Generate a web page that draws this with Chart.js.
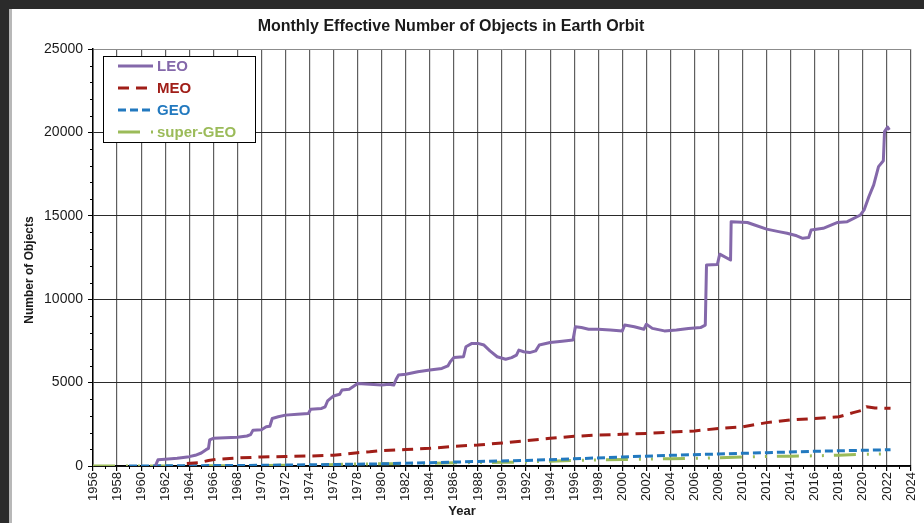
<!DOCTYPE html>
<html>
<head>
<meta charset="utf-8">
<script src="https://cdn.jsdelivr.net/npm/chart.js@4.4.1/dist/chart.umd.min.js"></script>
<style>
  html, body { margin: 0; padding: 0; }
  body { width: 924px; height: 523px; background: #2b2b2b; position: relative; overflow: hidden; }
  #sheet { position: absolute; left: 9px; top: 9px; right: 0; bottom: 0; background: #ffffff; border-left: 3px solid #b8b8b8; }
  #wrap { position: absolute; left: 0; top: 0; width: 924px; height: 523px; }
</style>
</head>
<body>
<div id="sheet"></div>
<div id="wrap"><canvas id="chart" width="924" height="523"></canvas></div>
<script>
// Monthly effective number of tracked objects, by orbital regime (year, count)
const leoYears = [1961.2, 1961.4, 1962.0, 1962.5, 1963.0, 1963.5, 1964.0, 1964.5, 1965.0, 1965.4, 1965.6, 1965.7, 1966.0, 1967.0, 1968.0, 1968.8, 1969.1, 1969.3, 1970.0, 1970.4, 1970.7, 1970.9, 1971.4, 1972.0, 1973.0, 1973.9, 1974.1, 1975.0, 1975.3, 1975.5, 1976.0, 1976.5, 1976.7, 1977.3, 1977.7, 1978.0, 1979.0, 1980.0, 1980.6, 1981.0, 1981.2, 1981.4, 1982.0, 1983.0, 1984.0, 1985.0, 1985.5, 1985.7, 1986.0, 1986.8, 1987.0, 1987.5, 1988.0, 1988.5, 1989.0, 1989.6, 1990.3, 1990.8, 1991.2, 1991.4, 1991.8, 1992.3, 1992.8, 1993.1, 1994.0, 1995.0, 1995.9, 1996.1, 1996.6, 1997.2, 1998.0, 1999.0, 2000.0, 2000.2, 2001.0, 2001.8, 2002.0, 2002.5, 2003.5, 2004.5, 2005.5, 2006.5, 2006.9, 2007.0, 2007.9, 2008.1, 2009.0, 2009.05, 2010.4, 2011.0, 2012.0, 2013.0, 2013.7, 2014.5, 2015.0, 2015.5, 2015.7, 2016.7, 2017.9, 2018.7, 2019.8, 2020.1, 2020.5, 2020.9, 2021.3, 2021.7, 2021.8, 2022.05, 2022.2];
const leoCounts = [30, 370, 400, 430, 460, 510, 560, 640, 780, 980, 1060, 1560, 1660, 1700, 1720, 1800, 1880, 2150, 2170, 2350, 2380, 2850, 2950, 3050, 3100, 3150, 3400, 3450, 3550, 3900, 4200, 4300, 4550, 4600, 4800, 4950, 4900, 4850, 4900, 4850, 5200, 5450, 5500, 5650, 5750, 5850, 6000, 6250, 6500, 6550, 7150, 7350, 7350, 7250, 6900, 6550, 6400, 6500, 6650, 6950, 6850, 6800, 6900, 7250, 7400, 7480, 7550, 8350, 8300, 8200, 8200, 8150, 8100, 8450, 8350, 8200, 8500, 8250, 8100, 8150, 8250, 8300, 8450, 12050, 12080, 12700, 12350, 14650, 14600, 14450, 14200, 14050, 13950, 13800, 13650, 13700, 14150, 14250, 14600, 14650, 15050, 15350, 16150, 16850, 17950, 18300, 20050, 20320, 20150];

const meoYears = [1963.8, 1964.8, 1965.6, 1966.2, 1968.0, 1970.0, 1972.0, 1974.0, 1976.0, 1977.0, 1978.0, 1979.0, 1980.0, 1982.0, 1984.0, 1986.0, 1988.0, 1990.0, 1992.0, 1994.0, 1996.0, 1998.0, 2000.0, 2002.0, 2004.0, 2006.0, 2008.0, 2010.0, 2012.0, 2014.0, 2016.0, 2018.0, 2018.5, 2019.2, 2020.0, 2020.3, 2021.0, 2022.3];
const meoCounts = [150, 200, 330, 400, 480, 540, 570, 600, 650, 720, 800, 850, 920, 990, 1060, 1180, 1260, 1380, 1520, 1660, 1780, 1860, 1900, 1950, 2030, 2100, 2250, 2350, 2600, 2760, 2850, 2950, 3050, 3200, 3350, 3550, 3480, 3460];

const geoYears = [1959.0, 1965.0, 1970.0, 1975.0, 1980.0, 1984.0, 1988.0, 1992.0, 1996.0, 2000.0, 2004.0, 2008.0, 2012.0, 2016.0, 2020.0, 2022.3];
const geoCounts = [0, 20, 40, 80, 130, 200, 270, 330, 430, 540, 640, 720, 800, 880, 940, 980];

const superGeoYears = [1956.0, 1960.0, 1965.0, 1970.0, 1975.0, 1977.0, 1980.0, 1983.0, 1986.0, 1988.0, 1990.0, 1992.0, 1994.0, 1996.0, 1998.0, 2000.0, 2002.0, 2004.0, 2006.0, 2008.0, 2010.0, 2012.0, 2014.0, 2016.0, 2018.0, 2020.0, 2022.3];
const superGeoCounts = [0, 0, 10, 30, 60, 110, 130, 150, 190, 210, 220, 240, 290, 340, 370, 390, 410, 440, 460, 490, 540, 570, 590, 610, 650, 700, 730];

const seriesNames = ['LEO', 'MEO', 'GEO', 'super-GEO'];
const seriesColors = ['#8468aa', '#a01e18', '#2279bf', '#9bbb59'];
const seriesDashes = [[], [11, 7], [8, 4], [22, 11, 2, 10, 2, 10]];

const yTickValues = [0, 5000, 10000, 15000, 20000, 25000];

const chartTitle = 'Monthly Effective Number of Objects in Earth Orbit';
const yAxisTitle = 'Number of Objects';
const xAxisTitle = 'Year';

const FONT = "'Liberation Sans', Arial, sans-serif";
const INK = '#1a1a1a';

function toPoints(xs, ys) {
  return xs.map((x, i) => ({ x: x, y: ys[i] }));
}

const seriesData = [
  toPoints(leoYears, leoCounts),
  toPoints(meoYears, meoCounts),
  toPoints(geoYears, geoCounts),
  toPoints(superGeoYears, superGeoCounts)
];

const datasets = seriesNames.map((name, i) => ({
  label: name,
  data: seriesData[i],
  borderColor: seriesColors[i],
  backgroundColor: seriesColors[i],
  borderDash: seriesDashes[i],
  borderWidth: 3,
  borderCapStyle: 'butt',
  borderJoinStyle: 'round',
  pointRadius: 0,
  tension: 0,
  fill: false
}));

// Small unlabeled ticks: odd years on x, every 1000 on y
const minorTicks = {
  id: 'minorTicks',
  afterDraw(chart) {
    const { ctx, scales: { x, y } } = chart;
    ctx.save();
    ctx.strokeStyle = '#000';
    ctx.lineWidth = 1;
    ctx.beginPath();
    for (let yr = 1957; yr < 2024; yr += 2) {
      const px = Math.round(x.getPixelForValue(yr)) + 0.5;
      ctx.moveTo(px, y.bottom);
      ctx.lineTo(px, y.bottom + 3);
    }
    for (let v = 1000; v < 25000; v += 1000) {
      if (v % 5000 === 0) continue;
      const py = Math.round(y.getPixelForValue(v)) + 0.5;
      ctx.moveTo(x.left - 3, py);
      ctx.lineTo(x.left, py);
    }
    ctx.stroke();
    ctx.restore();
  }
};

// Title and axis titles
const captions = {
  id: 'captions',
  afterDraw(chart) {
    const { ctx } = chart;
    ctx.save();
    ctx.fillStyle = INK;
    ctx.textAlign = 'center';
    ctx.textBaseline = 'middle';
    ctx.font = 'bold 16px ' + FONT;
    ctx.fillText(chartTitle, 451, 27);
    ctx.font = 'bold 13px ' + FONT;
    ctx.fillText(xAxisTitle, 462, 511);
    ctx.translate(30, 270);
    ctx.rotate(-Math.PI / 2);
    ctx.font = 'bold 12px ' + FONT;
    ctx.fillText(yAxisTitle, 0, 0);
    ctx.restore();
  }
};

// Boxed legend in the upper-left of the plot
const boxedLegend = {
  id: 'boxedLegend',
  afterDraw(chart) {
    const { ctx } = chart;
    const left = 103.5, top = 56.5, w = 152, h = 86;
    ctx.save();
    ctx.fillStyle = '#ffffff';
    ctx.fillRect(left, top, w, h);
    ctx.strokeStyle = '#000';
    ctx.lineWidth = 1;
    ctx.strokeRect(left, top, w, h);
    chart.data.datasets.forEach((ds, i) => {
      const cy = 66 + i * 22;
      ctx.beginPath();
      ctx.setLineDash(ds.borderDash || []);
      ctx.lineDashOffset = 0;
      ctx.strokeStyle = ds.borderColor;
      ctx.lineWidth = 3;
      ctx.lineCap = 'butt';
      ctx.moveTo(118, cy);
      ctx.lineTo(153, cy);
      ctx.stroke();
      ctx.setLineDash([]);
      ctx.fillStyle = ds.borderColor;
      ctx.font = 'bold 15px ' + FONT;
      ctx.textAlign = 'left';
      ctx.textBaseline = 'middle';
      ctx.fillText(ds.label, 157, cy + 1);
    });
    ctx.restore();
  }
};

new Chart(document.getElementById('chart'), {
  type: 'line',
  data: { datasets: datasets },
  options: {
    responsive: false,
    animation: false,
    devicePixelRatio: 1,
    layout: { padding: { top: 49, right: 13, left: 0, bottom: 0 } },
    plugins: {
      legend: { display: false },
      tooltip: { enabled: false },
      title: { display: false }
    },
    scales: {
      x: {
        type: 'linear',
        min: 1956,
        max: 2024,
        afterFit(scale) {
          scale.height = 57;
          scale.paddingLeft = 0;
          scale.paddingRight = 0;
        },
        ticks: {
          stepSize: 2,
          autoSkip: false,
          maxRotation: 90,
          minRotation: 90,
          padding: 1,
          color: INK,
          font: { family: FONT, size: 13 },
          callback: (v) => String(v)
        },
        grid: {
          color: '#5e5e5e',
          lineWidth: 1.2,
          tickLength: 5,
          tickColor: '#000'
        },
        border: { color: '#000', width: 1.5 }
      },
      y: {
        min: 0,
        max: 25000,
        afterFit(scale) {
          scale.width = 93;
          scale.paddingTop = 0;
          scale.paddingBottom = 0;
        },
        afterBuildTicks(scale) {
          scale.ticks = yTickValues.map(v => ({ value: v }));
        },
        ticks: {
          padding: 5,
          color: INK,
          font: { family: FONT, size: 14 },
          callback: (v) => String(v)
        },
        grid: {
          color: (c) => (c.tick && c.tick.value === 25000 ? '#8c8c8c' : '#2a2a2a'),
          lineWidth: 1,
          tickLength: 5,
          tickColor: '#000'
        },
        border: { color: '#000', width: 1.5 }
      }
    }
  },
  plugins: [minorTicks, captions, boxedLegend]
});
</script>
</body>
</html>
